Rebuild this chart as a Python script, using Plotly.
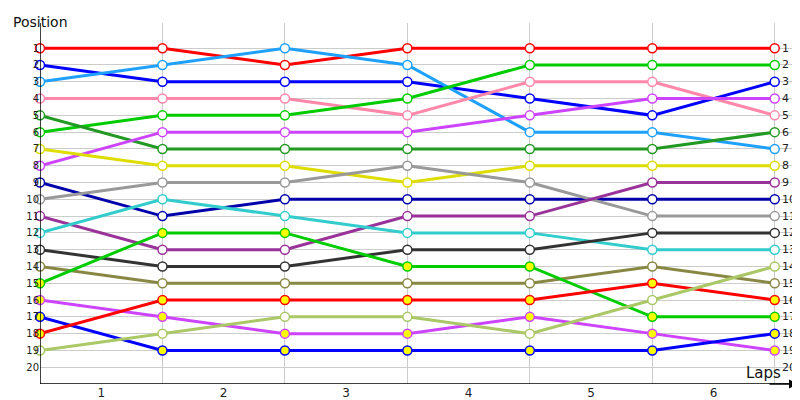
import plotly.graph_objects as go

laps = [0, 1, 2, 3, 4, 5, 6]
lap_labels = ["1", "2", "3", "4", "5", "6"]
positions = list(range(1, 21))

drivers = [
    ("#ff0000", "white", [1, 1, 2, 1, 1, 1, 1]),
    ("#0000ff", "white", [2, 3, 3, 3, 4, 5, 3]),
    ("#1ea0ff", "white", [3, 2, 1, 2, 6, 6, 7]),
    ("#ff88aa", "white", [4, 4, 4, 5, 3, 3, 5]),
    ("#00cc00", "white", [6, 5, 5, 4, 2, 2, 2]),
    ("#229922", "white", [5, 7, 7, 7, 7, 7, 6]),
    ("#cc44ff", "white", [8, 6, 6, 6, 5, 4, 4]),
    ("#dddd00", "white", [7, 8, 8, 9, 8, 8, 8]),
    ("#0000aa", "white", [9, 11, 10, 10, 10, 10, 10]),
    ("#999999", "white", [10, 9, 9, 8, 9, 11, 11]),
    ("#993399", "white", [11, 13, 13, 11, 11, 9, 9]),
    ("#33cccc", "white", [12, 10, 11, 12, 12, 13, 13]),
    ("#333333", "white", [13, 14, 14, 13, 13, 12, 12]),
    ("#888844", "white", [14, 15, 15, 15, 15, 14, 15]),
    ("#00cc00", "#ffff00", [15, 12, 12, 14, 14, 17, 17]),
    ("#cc44ff", "#ffff00", [16, 17, 18, 18, 17, 18, 19]),
    ("#0000ff", "#ffff00", [17, 19, 19, 19, 19, 19, 18]),
    ("#ff0000", "#ffff00", [18, 16, 16, 16, 16, 15, 16]),
    ("#aac866", "white", [19, 18, 17, 17, 18, 16, 14]),
]

fig = go.Figure()
for color, fill, pos in drivers:
    fig.add_trace(go.Scatter(
        x=laps, y=pos, mode="lines+markers", cliponaxis=False,
        line=dict(color=color, width=3),
        marker=dict(size=9, color=fill, line=dict(color=color, width=1.5)),
        showlegend=False,
    ))

# right-hand position labels
for p in positions:
    fig.add_annotation(x=6, y=p, text=str(p), showarrow=False, xanchor="left",
                       xshift=5, font=dict(size=11, color="#222"))

fig.add_annotation(xref="paper", yref="paper", x=0, y=1, text="Position",
                   showarrow=False, xanchor="center", yanchor="middle", yshift=1,
                   font=dict(size=14, color="#111"))
fig.add_annotation(x=6, y=21, text="Laps", showarrow=False, xanchor="right",
                   yanchor="bottom", xshift=8, font=dict(size=15, color="#111"))
fig.add_annotation(xref="paper", yref="y", x=1.0, y=21, ax=-30, ay=0,
                   text="", showarrow=True, arrowhead=2, arrowsize=1.2,
                   arrowwidth=1.5, arrowcolor="black")

fig.update_xaxes(range=[0, 6.19], tickvals=[0.5, 1.5, 2.5, 3.5, 4.5, 5.5],
                 ticktext=lap_labels, showgrid=False, zeroline=False,
                 showline=False, ticks="", automargin=False,
                 tickfont=dict(size=12, color="#222"),
                 minor=dict(tickvals=laps, showgrid=True, gridcolor="#cccccc"))
fig.update_yaxes(range=[21, -0.5], tickvals=positions, showgrid=True,
                 gridcolor="#cccccc", zeroline=False, showline=False, ticks="",
                 automargin=False, tickfont=dict(size=10, color="#222"))

fig.add_shape(type="line", xref="x", yref="y", x0=0, x1=0, y0=21, y1=-0.5,
              line=dict(color="black", width=1.5))
fig.add_shape(type="line", xref="x", yref="y", x0=0, x1=6.19, y0=21, y1=21,
              line=dict(color="black", width=1.5))

fig.update_layout(width=800, height=400, plot_bgcolor="white", paper_bgcolor="white",
                  margin=dict(l=32, r=10, t=15, b=24),
                  font=dict(family="DejaVu Sans"))

fig.write_html("out.html")
